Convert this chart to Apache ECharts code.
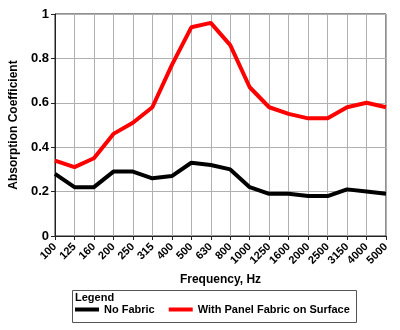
<!DOCTYPE html>
<html>
<head>
<meta charset="utf-8">
<script src="https://cdn.jsdelivr.net/npm/echarts@6/dist/echarts.min.js"></script>
<style>
html,body{margin:0;padding:0;background:#fff;}
#chart{width:400px;height:330px;}
</style>
</head>
<body>
<div id="chart"></div>
<script>
// Octave-third frequency bands (Hz)
const frequencies = ['100','125','160','200','250','315','400','500','630','800','1000','1250','1600','2000','2500','3150','4000','5000'];
// Absorption coefficients per band
const noFabric = [0.28,0.22,0.22,0.29,0.29,0.26,0.27,0.33,0.32,0.30,0.22,0.19,0.19,0.18,0.18,0.21,0.20,0.19];
const withFabric = [0.34,0.31,0.35,0.46,0.51,0.58,0.77,0.94,0.96,0.86,0.67,0.58,0.55,0.53,0.53,0.58,0.60,0.58];
const yTicks = [0, 0.2, 0.4, 0.6, 0.8, 1];

const font = 'Liberation Sans, Arial, sans-serif';
const chart = echarts.init(document.getElementById('chart'), null, {renderer: 'canvas'});

chart.setOption({
  animation: false,
  backgroundColor: '#fff',
  grid: {left: 55, right: 14, top: 14, bottom: 94, show: true, borderColor: '#222', borderWidth: 1},
  xAxis: {
    type: 'category',
    data: frequencies,
    boundaryGap: false,
    name: 'Frequency, Hz',
    nameLocation: 'middle',
    nameGap: 35,
    nameTextStyle: {fontFamily: font, fontWeight: 'bold', fontSize: 12, color: '#000'},
    axisLine: {lineStyle: {color: '#222', width: 1}},
    axisTick: {show: true, length: 4, alignWithLabel: true, lineStyle: {color: '#222'}},
    axisLabel: {interval: 0, rotate: 45, margin: 9, fontFamily: font, fontWeight: 'bold', fontSize: 11, color: '#000'},
    splitLine: {show: true, lineStyle: {color: '#b0b0b0', width: 1}}
  },
  yAxis: {
    type: 'value',
    min: yTicks[0],
    max: yTicks[yTicks.length - 1],
    interval: 0.2,
    name: 'Absorption Coefficient',
    nameLocation: 'middle',
    nameGap: 29,
    nameTextStyle: {fontFamily: font, fontWeight: 'bold', fontSize: 12, color: '#000'},
    axisLine: {show: true, lineStyle: {color: '#222', width: 1}},
    axisTick: {show: true, length: 4, lineStyle: {color: '#222'}},
    axisLabel: {fontFamily: font, fontWeight: 'bold', fontSize: 13, color: '#000', margin: 6,
      formatter: v => String(Math.round(v * 10) / 10)},
    splitLine: {show: true, lineStyle: {color: '#b0b0b0', width: 1}}
  },
  legend: {
    left: 75,
    top: 304,
    padding: 0,
    itemGap: 14,
    itemWidth: 24,
    itemHeight: 4,
    icon: 'rect',
    textStyle: {fontFamily: font, fontWeight: 'bold', fontSize: 11, color: '#000'},
    data: ['No Fabric', 'With Panel Fabric on Surface']
  },
  graphic: [
    {type: 'rect', shape: {x: 72.5, y: 290.5, width: 284, height: 32},
      style: {fill: '#fff', stroke: '#555', lineWidth: 1}, z: -1},
    {type: 'text', left: 75, top: 292,
      style: {text: 'Legend', fontFamily: font, fontWeight: 'bold', fontSize: 11, fill: '#000'}}
  ],
  series: [
    {name: 'No Fabric', type: 'line', data: noFabric, symbol: 'none', color: '#000',
      lineStyle: {color: '#000', width: 4}},
    {name: 'With Panel Fabric on Surface', type: 'line', data: withFabric, symbol: 'none', color: '#ff0000',
      lineStyle: {color: '#ff0000', width: 4}}
  ]
});
</script>
</body>
</html>
